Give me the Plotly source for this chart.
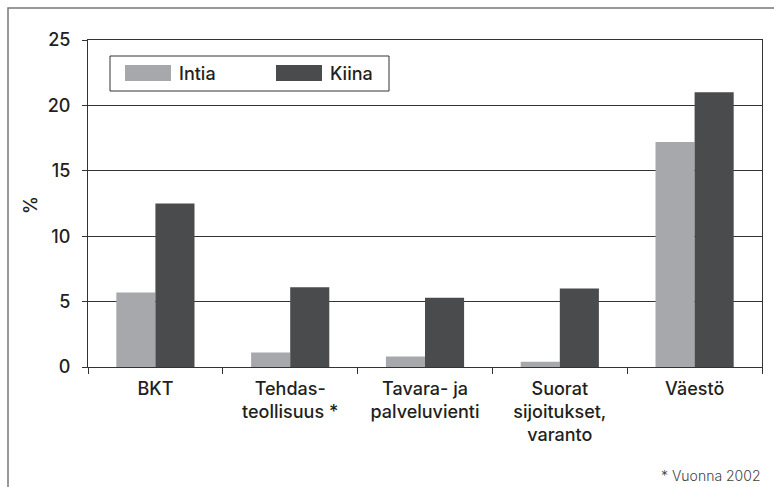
import plotly.graph_objects as go

categories = ["BKT", "Tehdas-<br>teollisuus *", "Tavara- ja<br>palveluvienti",
              "Suorat<br>sijoitukset,<br>varanto", "Väestö"]
intia = [5.7, 1.1, 0.8, 0.4, 17.2]
kiina = [12.5, 6.1, 5.3, 6.0, 21.0]
series_names = ["Intia", "Kiina"]
y_ticks = [0, 5, 10, 15, 20, 25]
footnote = "* Vuonna 2002"

C_INTIA = "#a7a8ab"
C_KIINA = "#4a4b4d"
TXT = "#231f20"
FONT = "Inter, Liberation Sans, Arial, sans-serif"
FS = 18
FW = 500

fig = go.Figure()
fig.add_bar(x=categories, y=intia, name=series_names[0], marker_color=C_INTIA,
            marker_line_width=0, showlegend=False)
fig.add_bar(x=categories, y=kiina, name=series_names[1], marker_color=C_KIINA,
            marker_line_width=0, showlegend=False)

L, R, T, B = 88, 12, 40, 120
W, H = 774, 487
pw, ph = W - L - R, H - T - B

def px(x):
    return (x - L) / pw

def py(y):
    return 1 - (y - T) / ph

shapes = [
    # outer frame
    dict(type="rect", xref="paper", yref="paper", x0=px(8), x1=px(790), y0=py(500), y1=py(8),
         line=dict(color="#777777", width=1.5), layer="below"),
    # legend box
    dict(type="rect", xref="paper", yref="paper", x0=px(110), x1=px(389), y0=py(91), y1=py(56),
         line=dict(color="#333333", width=1), fillcolor="white"),
    dict(type="rect", xref="paper", yref="paper", x0=px(125), x1=px(171), y0=py(81), y1=py(65),
         line=dict(width=0), fillcolor=C_INTIA),
    dict(type="rect", xref="paper", yref="paper", x0=px(276), x1=px(322), y0=py(81), y1=py(65),
         line=dict(width=0), fillcolor=C_KIINA),
]
afont = dict(size=FS, color=TXT, family=FONT, weight=FW)
annotations = [
    dict(text=series_names[0], xref="paper", yref="paper", x=px(177), y=py(73), xanchor="left",
         yanchor="middle", showarrow=False, font=afont),
    dict(text=series_names[1], xref="paper", yref="paper", x=px(328), y=py(73), xanchor="left",
         yanchor="middle", showarrow=False, font=afont),
    dict(text="%", xref="paper", yref="paper", x=px(30), y=py(205), textangle=-90,
         xanchor="center", yanchor="middle", showarrow=False, font=afont),
    dict(text=footnote, xref="paper", yref="paper", x=px(763), y=py(475), xanchor="right",
         yanchor="middle", showarrow=False,
         font=dict(size=14, color="#444444", family=FONT, weight=300)),
]

fig.update_layout(
    width=W, height=H,
    margin=dict(l=L, r=R, t=T, b=B, pad=0),
    paper_bgcolor="white", plot_bgcolor="white",
    barmode="group", bargap=0.42, bargroupgap=0,
    font=dict(family=FONT, size=FS, color=TXT, weight=FW),
    shapes=shapes, annotations=annotations,
    xaxis=dict(showline=True, linecolor="#333333", linewidth=1, mirror=True,
               ticks="outside", tickson="boundaries", ticklen=6, tickcolor="#333333",
               tickfont=dict(size=FS, color=TXT, family=FONT, weight=FW), showgrid=False,
               ticklabelstandoff=5),
    yaxis=dict(range=[0, 25], tickvals=y_ticks, showline=True, linecolor="#333333",
               linewidth=1, mirror=True, ticks="outside", ticklen=5, tickcolor="#333333",
               showgrid=True, gridcolor="#333333", gridwidth=1, zeroline=False,
               tickfont=dict(size=FS, color=TXT, family=FONT, weight=FW), ticklabelstandoff=8),
)

fig.write_html("out.html", config={"displayModeBar": False},
               post_script="document.body.style.margin='0';")
